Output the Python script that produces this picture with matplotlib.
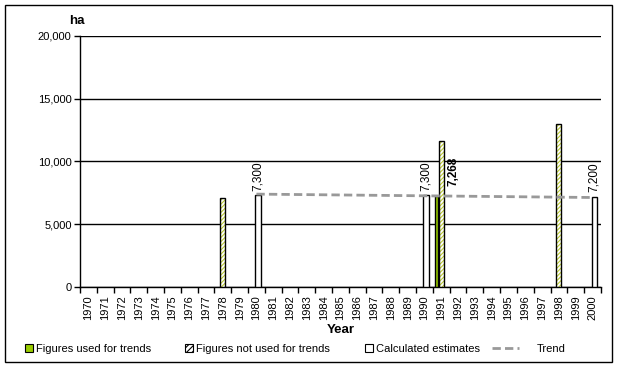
import matplotlib
matplotlib.use("Agg")
import matplotlib.pyplot as plt
from matplotlib.patches import Rectangle, Patch
from matplotlib.lines import Line2D
import numpy as np

plt.rcParams['font.family'] = ['Liberation Sans', 'DejaVu Sans']
plt.rcParams['hatch.linewidth'] = 0.8

years = list(range(1970, 2001))
used_years = [1991]
used_vals = [7268]
notused_years = [1978, 1991, 1998]
notused_vals = [7100, 11600, 13000]
calc_years = [1980, 1990, 2000]
calc_vals = [7300, 7300, 7200]
trend_years = [1980, 2000]
trend_vals = [7400, 7130]
yticks = [0, 5000, 10000, 15000, 20000]

GREEN = '#99CC00'
HATCHC = '#BBCC33'
fig = plt.figure(figsize=(6.18, 3.67), dpi=100)
ax = fig.add_axes([0.1294, 0.218, 0.843, 0.684])

yr0 = years[0]

ux = [y - yr0 - 0.28 for y in used_years]
ax.bar(ux, used_vals, width=0.18, color=GREEN, edgecolor='black', linewidth=1.0, zorder=3)
nx = [y - yr0 - 0.01 for y in notused_years]
ax.bar(nx, notused_vals, width=0.3, color='white', edgecolor=HATCHC, hatch='////////', linewidth=0, zorder=3)
ax.bar(nx, notused_vals, width=0.3, color='none', edgecolor='black', linewidth=1.0, zorder=4)
cx = [y - yr0 + 0.11 for y in calc_years]
ax.bar(cx, calc_vals, width=0.34, color='white', edgecolor='black', linewidth=1.0, zorder=3)

ax.plot([y - yr0 for y in trend_years], trend_vals, color='#999999', linestyle=(0, (3, 1.5)),
        linewidth=2, zorder=5)

for x, v in zip(cx, calc_vals):
    ax.text(x - 0.05, v + 350, f"{v:,}", rotation=90, ha='center', va='bottom', fontsize=8.5, zorder=6)
for y, v in zip(used_years, used_vals):
    ax.text(y - yr0 + 0.7, v + 750, f"{v:,}", rotation=90, ha='center', va='bottom', fontsize=8.5,
            fontweight='bold', zorder=6)

ax.set_xlim(-0.5, len(years) - 0.5)
ax.set_ylim(0, 20000)
ax.set_yticks(yticks)
ax.set_yticklabels([f"{v:,}" for v in yticks], fontsize=8)
ax.yaxis.grid(True, color='black', linewidth=1)
ax.set_axisbelow(True)
ax.set_xticks(range(len(years)))
ax.set_xticklabels([str(y) for y in years], rotation=90, fontsize=8)
ax.set_xticks(np.arange(-0.5, len(years), 1), minor=True)
ax.tick_params(axis='x', which='major', length=0, pad=6)
ax.tick_params(axis='x', which='minor', length=4, direction='out', width=1)
ax.tick_params(axis='y', length=4, direction='out', width=1, pad=2)
for s in ['top', 'right']:
    ax.spines[s].set_visible(False)
for s in ['left', 'bottom']:
    ax.spines[s].set_linewidth(1)
ax.set_xlabel('Year', fontsize=9.5, fontweight='bold', labelpad=3)
fig.text(0.125, 0.943, 'ha', fontsize=9.5, fontweight='bold', ha='center', va='center')

handles = [Patch(facecolor=GREEN, edgecolor='black', linewidth=0.8),
           Patch(facecolor='white', edgecolor='black', hatch='//////', linewidth=0.8),
           Patch(facecolor='white', edgecolor='black', linewidth=0.8),
           Line2D([0], [0], color='#999999', linestyle=(0, (3, 1.5)), linewidth=2)]
labels = ['Figures used for trends', 'Figures not used for trends', 'Calculated estimates', 'Trend']
xpos = [25, 185, 365, 492]
for h, l, xp in zip(handles, labels, xpos):
    is_line = isinstance(h, Line2D)
    fig.legend([h], [l], loc='center left', bbox_to_anchor=(xp / 618, 1 - 349 / 367),
               frameon=False, fontsize=8, borderpad=0, borderaxespad=0,
               handlelength=2.4 if is_line else 0.7, handleheight=0.7,
               handletextpad=1.6 if is_line else 0.25)

fig.patches.append(Rectangle((0.008, 0.013), 0.982, 0.973, transform=fig.transFigure,
                             fill=False, edgecolor='black', linewidth=1))
fig.savefig('out.png', dpi=100)
